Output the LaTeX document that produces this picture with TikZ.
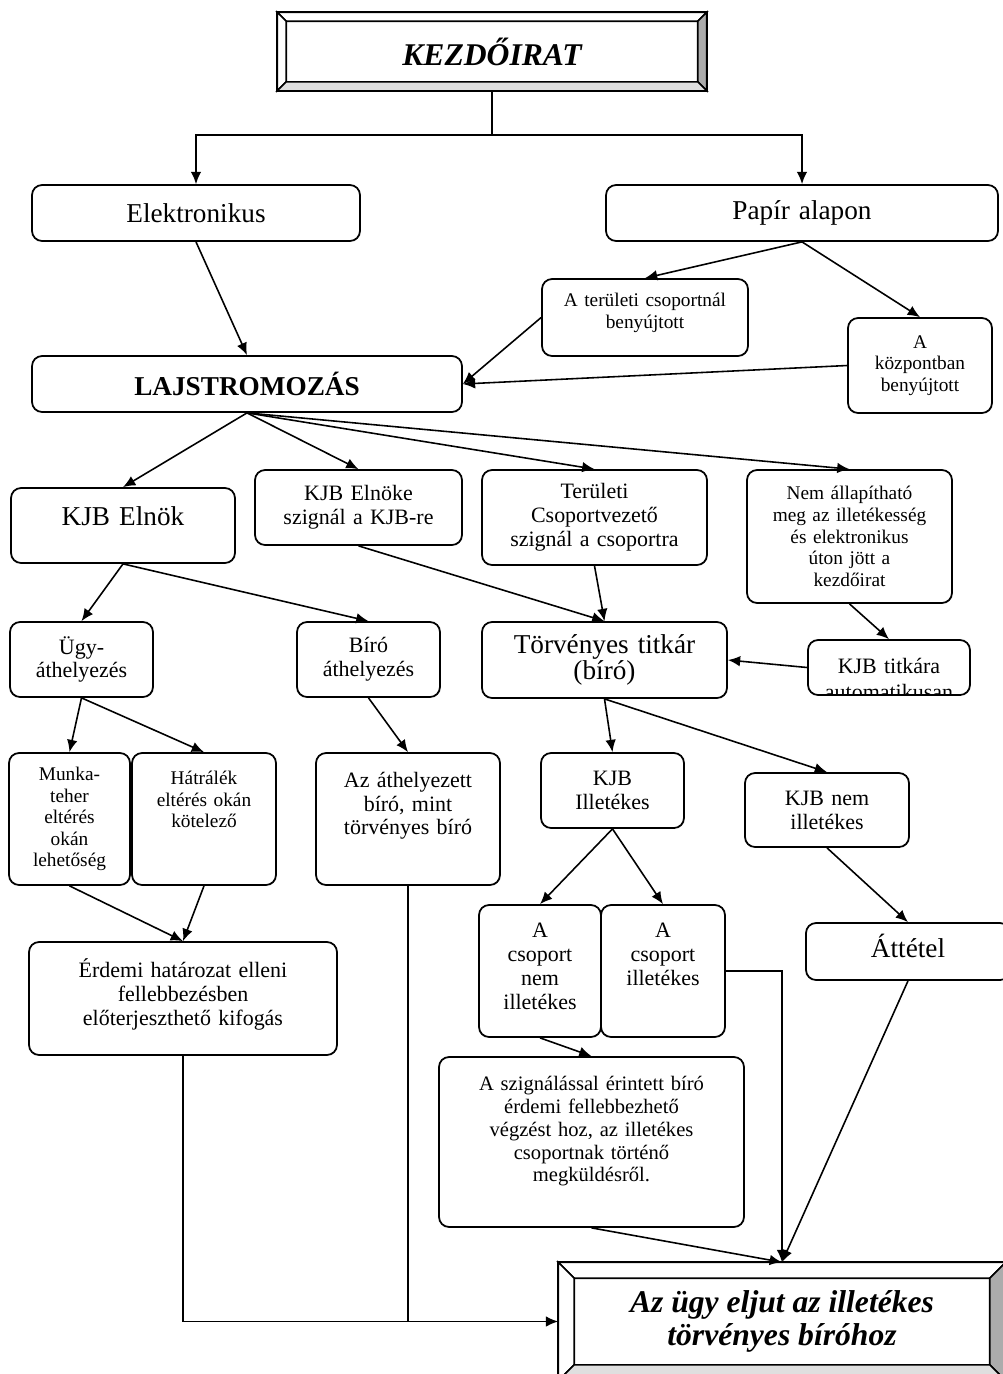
\documentclass[tikz,border=0pt]{standalone}
\usepackage{fontspec}
\setmainfont{Liberation Serif}
\usetikzlibrary{arrows.meta}

% framed box with bevelled edges
\newcommand{\bevelframe}[2]{%
  \filldraw[fill=white] (#1.north west) -- (#1.north east) -- ([shift={(-#2,-#2)}]#1.north east) -- ([shift={(#2,-#2)}]#1.north west) -- cycle;
  \filldraw[fill=white] (#1.north west) -- ([shift={(#2,-#2)}]#1.north west) -- ([shift={(#2,#2)}]#1.south west) -- (#1.south west) -- cycle;
  \filldraw[fill=gray!65] (#1.north east) -- (#1.south east) -- ([shift={(-#2,#2)}]#1.south east) -- ([shift={(-#2,-#2)}]#1.north east) -- cycle;
  \filldraw[fill=gray!25] (#1.south west) -- (#1.south east) -- ([shift={(-#2,#2)}]#1.south east) -- ([shift={(#2,#2)}]#1.south west) -- cycle;
  \draw[line width=1.2pt] (#1.north west) rectangle (#1.south east);
}

\begin{document}
\begin{tikzpicture}[x=0.02cm,y=-0.02cm,>={Latex[length=7pt,width=6pt]},line width=0.9pt,
    rbox/.style={draw,rounded corners=2mm,line width=1pt,align=center,inner sep=0pt,text width=#1,minimum width=#1},
    endbox/.style={align=center,inner sep=0pt,font=\fontsize{18}{18.7}\selectfont\bfseries\itshape},
    fbig/.style={font=\fontsize{15.5}{14.5}\selectfont},
    fmid/.style={font=\fontsize{12.5}{13.6}\selectfont},
    fsmall/.style={font=\fontsize{11}{12.3}\selectfont}]

  \clip (0,0) rectangle (1003,1374);

  \node[endbox,minimum width=85.6mm,minimum height=15.4mm] (start) at (492,51.5) {KEZDŐIRAT};
  \bevelframe{start}{1.8mm}

  \node[rbox=65.6mm,minimum height=11.2mm,fbig] (elek) at (196,213) {Elektronikus};
  \node[rbox=78.4mm,minimum height=11.2mm,fbig] (papir) at (802,213) {Papír alapon};
  \node[rbox=41.2mm,minimum height=15.4mm,fsmall,text depth=20pt] (terul) at (645,317.5) {A területi csoportnál\\benyújtott};
  \node[rbox=28.8mm,minimum height=19mm,fsmall] (kozp) at (920,365.5) {A\\központban\\benyújtott};
  \node[rbox=86mm,minimum height=11.2mm,font=\fontsize{15.5}{14.5}\selectfont\bfseries] (lajs) at (247,384) {LAJSTROMOZÁS};

  \node[rbox=44.8mm,minimum height=15mm,fbig,text depth=10.8pt] (elnok) at (123,525.5) {KJB Elnök};
  \node[rbox=41.4mm,minimum height=15mm,fmid] (elnoke) at (358.5,507.5) {KJB Elnöke\\szignál a KJB-re};
  \node[rbox=45mm,minimum height=19mm,fmid] (tercs) at (594.5,517.5) {Területi\\Csoportvezető\\szignál a csoportra};
  \node[rbox=41mm,minimum height=26.6mm,fsmall] (nemall) at (849.5,536.5) {Nem állapítható\\meg az illetékesség\\és elektronikus\\úton jött a\\kezdőirat};

  \node[rbox=49mm,minimum height=15.2mm,fbig] (torv) at (604.5,660) {Törvényes titkár\\(bíró)};
  \node[rbox=32.4mm,minimum height=11mm,path picture={\node[font=\fontsize{12.5}{15}\selectfont,align=center] (titktext) at ([yshift=-2.3mm]path picture bounding box.center) {KJB titkára\\automatikusan};}] (titk) at (889,667.5) {};
  \node[rbox=28.6mm,minimum height=15mm,fmid] (ugy) at (81.5,659.5) {Ügy-\\áthelyezés};
  \node[rbox=28.6mm,minimum height=15mm,fmid] (biro) at (368.5,659.5) {Bíró\\áthelyezés};

  \node[rbox=24.2mm,minimum height=26.4mm,fsmall] (munka) at (69.5,819) {Munka-\\teher\\eltérés\\okán\\lehetőség};
  \node[rbox=28.8mm,minimum height=26.4mm,fsmall,text depth=47pt] (hatr) at (204,819) {Hátrálék\\eltérés okán\\kötelező};
  \node[rbox=36.8mm,minimum height=26.4mm,fmid,text depth=45pt] (athe) at (408,819) {Az áthelyezett\\bíró, mint\\törvényes bíró};
  \node[rbox=28.6mm,minimum height=15mm,fmid] (kjbill) at (612.5,790.5) {KJB\\Illetékes};
  \node[rbox=32.8mm,minimum height=14.8mm,fmid] (kjbnem) at (827,810) {KJB nem\\illetékes};

  \node[rbox=61.6mm,minimum height=22.6mm,fmid,text depth=34.6pt] (erdemi) at (183,998.5) {Érdemi határozat elleni\\fellebbezésben\\előterjeszthető kifogás};
  \node[rbox=24.4mm,minimum height=26.4mm,fmid,text depth=46.5pt] (csnem) at (540,971) {A\\csoport\\nem\\illetékes};
  \node[rbox=24.8mm,minimum height=26.4mm,fmid,text depth=46.5pt] (csill) at (663,971) {A\\csoport\\illetékes};
  \node[rbox=40.8mm,minimum height=11.4mm,fbig,text depth=6pt] (attet) at (908,951.5) {Áttétel};
  \node[rbox=61mm,minimum height=34mm,font=\fontsize{11.7}{13}\selectfont,text depth=66.7pt] (szign) at (591.5,1142) {A szignálással érintett bíró\\érdemi fellebbezhető\\végzést hoz, az illetékes\\csoportnak történő\\megküldésről.};

  \node[endbox,minimum width=89.2mm,minimum height=23.4mm] (vege) at (782,1321.5) {Az ügy eljut az illetékes\\törvényes bíróhoz};
  \bevelframe{vege}{3.2mm}

  % connectors
  \coordinate (split) at (492,135);
  \draw (start.south) -- (split);
  \draw[->] (split) -| (elek.north);
  \draw[->] (split) -| (papir.north);

  \draw[->] (elek.south) -- (lajs.north);
  \draw[->] (papir.south) -- (terul.north);
  \draw[->] (papir.south) -- (kozp.north);
  \draw[->] (terul.west) -- (lajs.east);
  \draw[->] (kozp.west) -- (lajs.east);

  \draw[->] (lajs.south) -- (elnok.north);
  \draw[->] (lajs.south) -- (elnoke.north);
  \draw[->] (lajs.south) -- (tercs.north);
  \draw[->] (lajs.south) -- (nemall.north);

  \draw[->] (elnok.south) -- (ugy.north);
  \draw[->] (elnok.south) -- (biro.north);
  \draw[->] (elnoke.south) -- (torv.north);
  \draw[->] (tercs.south) -- (torv.north);
  \draw[->] (nemall.south) -- (titk.north);
  \draw[->] (titk.west) -- (torv.east);

  \draw[->] (ugy.south) -- (munka.north);
  \draw[->] (ugy.south) -- (hatr.north);
  \draw[->] (biro.south) -- (athe.north);
  \draw[->] (munka.south) -- (erdemi.north);
  \draw[->] (hatr.south) -- (erdemi.north);

  \draw[->] (torv.south) -- (kjbill.north);
  \draw[->] (torv.south) -- (kjbnem.north);
  \draw[->] (kjbill.south) -- (csnem.north);
  \draw[->] (kjbill.south) -- (csill.north);
  \draw[->] (kjbnem.south) -- (attet.north);
  \draw[->] (csnem.south) -- (szign.north);

  \draw[->] (erdemi.south) |- (vege.west);
  \draw (athe.south) -- (athe.south |- vege.west);
  \draw[->] (csill.east) -| (vege.north);
  \draw[->] (szign.south) -- (vege.north);
  \draw[->] (attet.south) -- (vege.north);

\end{tikzpicture}
\end{document}
